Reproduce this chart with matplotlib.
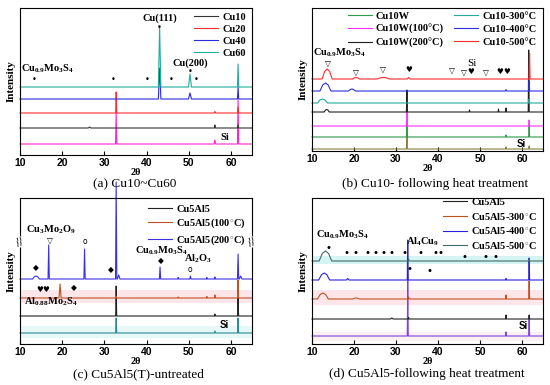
"""XRD patterns of Cu / Cu5Al5 doped films, four panels stacked with offsets."""
import numpy as np
import matplotlib
matplotlib.use("Agg")
import matplotlib.pyplot as plt

plt.rcParams["font.family"] = ["Liberation Serif", "DejaVu Sans"]
plt.rcParams["mathtext.fontset"] = "custom"
plt.rcParams["mathtext.rm"] = "Liberation Serif:bold"
plt.rcParams["mathtext.it"] = "Liberation Serif:bold"
plt.rcParams["mathtext.bf"] = "Liberation Serif:bold"

# ---- data: each trace = baseline offset + list of peaks (2theta, height, half width)
# (a) Cu10~Cu60, bottom -> top
a_names = [None, "Cu10", "Cu20", "Cu40", "Cu60"]
a_offsets = [11, 27, 42, 56, 68]
a_peaks = [
    [(32.8, 31, 0.15), (56.2, 4, 0.2), (61.7, 44, 0.15)],
    [(26.5, 1, 0.3), (56.2, 3, 0.12), (61.7, 3, 0.15)],
    [(32.8, 21, 0.12), (56.2, 1.5, 0.2), (61.7, 6, 0.15)],
    [(43.1, 31, 0.3), (50.3, 6, 0.35), (61.7, 12, 0.15)],
    [(43.1, 60, 0.3), (50.3, 13, 0.35), (61.7, 23, 0.15)],
]
a_marks = [("•", 13.3, 75), ("•", 32.1, 76), ("•", 40.1, 75), ("•", 45.9, 76),
           ("•", 51.7, 76), ("•", 43.1, 128), ("•", 50.3, 84)]

# (b) Cu10 following heat treatment
b_names = [None, "Cu10W", "Cu10W(100°C)", "Cu10W(200°C)",
           "Cu10-300°C", "Cu10-400°C", "Cu10-500°C"]
b_offsets = [2, 14, 25, 39, 48, 60, 72]
b_peaks = [
    [(32.6, 16, 0.12), (56.2, 2, 0.12), (61.7, 3, 0.12)],
    [(32.6, 14, 0.12), (56.2, 2, 0.12), (61.7, 12, 0.12)],
    [(32.6, 16, 0.12), (61.7, 6, 0.12)],
    [(13.5, 2.5, 0.6), (32.6, 22, 0.12), (47.5, 2, 0.12), (54.4, 3, 0.1),
     (56.2, 4, 0.1), (61.6, 62, 0.12)],
    [(12.5, 4, 1.2), (61.7, 4, 0.12)],
    [(13.2, 8, 1.3), (19.5, 2, 0.8), (56.2, 1.5, 0.15), (61.7, 10, 0.12)],
    [(13.6, 10, 1.2), (20.5, 1.5, 0.8), (27.0, 1.5, 1.5), (33.0, 1.5, 0.3), (61.8, 26, 0.12)],
]
b_marks = [("▽", 13.9, 88), ("▽", 20.5, 79), ("▽", 26.8, 82), ("▽", 43.2, 81),
           ("▽", 46.2, 79), ("▽", 51.5, 79), ("♥", 33.0, 82), ("♥", 47.7, 79),
           ("♥", 54.6, 80), ("♥", 56.3, 80)]

# (c) Cu5Al5(T)-untreated
c_names = [None, "Cu5Al5", "Cu5Al5(100$^{\\circ}$C)", "Cu5Al5(200$^{\\circ}$C)"]
c_offsets = [11, 28, 46, 65]
c_peaks = [
    [(32.8, 15, 0.12), (56.2, 2, 0.15), (61.7, 15, 0.12)],
    [(32.8, 30, 0.12), (56.2, 2, 0.1), (61.7, 19, 0.12)],
    [(19.5, 14, 0.25), (32.8, 2, 0.1), (47.5, 1, 0.1), (54.3, 1.5, 0.1),
     (56.2, 3, 0.1), (61.7, 18, 0.12)],
    [(13.8, 3, 0.8), (16.8, 34, 0.15), (25.3, 30, 0.15), (32.8, 97, 0.15),
     (33.4, 4, 0.3), (43.2, 12, 0.15), (47.5, 1.5, 0.12), (50.4, 3, 0.15),
     (54.3, 1.5, 0.1), (56.2, 2, 0.1), (61.7, 25, 0.15), (62.3, 3, 0.3)],
]
c_marks = [("◆", 13.7, 76), ("◆", 31.6, 74), ("◆", 43.5, 83), ("◆", 22.7, 56),
           ("♥", 14.6, 55), ("♥", 16.2, 55), ("▽", 17.0, 104), ("o", 25.5, 103),
           ("o", 50.4, 74)]

# (d) Cu5Al5 following heat treatment
d_names = [None, "Cu5Al5", "Cu5Al5-300$^{\\circ}$C", "Cu5Al5-400$^{\\circ}$C",
           "Cu5Al5-500$^{\\circ}$C"]
d_offsets = [8, 25, 45, 64, 83]
d_peaks = [
    [(32.8, 56, 0.12), (56.2, 4, 0.12), (61.7, 17, 0.12)],
    [(29.0, 1, 0.3), (33.0, 1.5, 0.1), (56.2, 4, 0.1), (61.7, 4, 0.12)],
    [(12.6, 6, 1.3), (20.5, 1, 0.8), (33.0, 2, 0.12), (56.2, 4, 0.1), (61.7, 18, 0.12)],
    [(12.9, 7, 1.3), (18.5, 1.5, 0.3), (32.8, 40, 0.12), (56.2, 1.5, 0.1), (61.7, 22, 0.12)],
    [(13.2, 10, 1.5), (33.0, 2, 0.1), (61.7, 2, 0.1)],
]
d_mark_x = [18.2, 20.4, 23.2, 25.2, 27.0, 28.9, 32.1, 35.8, 39.5, 40.7]
d_mark_x_low = [46.2, 51.4, 53.6]
d_marks = ([("•", 13.9, 96)] + [("•", p, 91) for p in d_mark_x]
           + [("•", p, 87) for p in d_mark_x_low]
           + [("•", 33.2, 75), ("•", 38.0, 73)])

# ---- styles
a_colors = ["#ff22d0", "#333333", "#ff2a2a", "#2a2ae0", "#1fae9c"]
b_colors = ["#8a8040", "#2e9a4a", "#ff30ff", "#222222", "#22aaa0", "#2a30e0", "#ff2a2a"]
c_colors = ["#2a8890", "#222222", "#c0501e", "#3a30e8"]
d_colors = ["#8040e0", "#222222", "#c0501e", "#2a20e0", "#3f6a6a"]


def trace(peaks):
    pts = [(10.0, 0.0), (65.0, 0.0)]
    for pos, h, w in peaks:
        if w >= 0.5:
            pts += [(pos - w, 0.0), (pos - w * 0.5, 0.75 * h), (pos, h),
                    (pos + w * 0.5, 0.75 * h), (pos + w, 0.0)]
        else:
            pts += [(pos - w, 0.0), (pos, h), (pos + w, 0.0)]
    pts.sort()
    x, y = zip(*pts)
    return np.array(x), np.array(y)


def draw(ax, names, offsets, peaks, colors, ymax):
    for name, off, pk, col in zip(names, offsets, peaks, colors):
        x, y = trace(pk)
        ax.plot(x, y + off, color=col, lw=0.8, label=name if name else "_nolegend_",
                clip_on=False)
    ax.set_xlim(10, 65)
    ax.set_ylim(0, ymax)
    ax.set_xticks([10, 20, 30, 40, 50, 60])
    ax.set_yticks([])
    ax.tick_params(axis="x", direction="in", length=3, pad=2.5)
    for lab in ax.get_xticklabels():
        lab.set_fontfamily("Liberation Sans")
        lab.set_fontweight("bold")
        lab.set_fontsize(7.5)
    ax.set_xlabel("2θ", fontsize=7.5, fontweight="bold", labelpad=0)
    ax.set_ylabel("Intensity", fontsize=8, fontweight="bold", labelpad=3)
    for s in ax.spines.values():
        s.set_linewidth(0.8)


def marks(ax, items, size=6):
    for sym, x, y in items:
        ax.text(x, y, sym, family="DejaVu Sans", fontsize=size, ha="center", va="center")


fig = plt.figure(figsize=(5.5, 3.85), dpi=100)
W, H = 550, 385
axa = fig.add_axes([20 / W, (H - 155) / H, 232 / W, 147 / H])
axb = fig.add_axes([312 / W, (H - 151) / H, 231 / W, 143 / H])
axc = fig.add_axes([20 / W, (H - 344) / H, 232 / W, 146 / H])
axd = fig.add_axes([312 / W, (H - 344) / H, 231 / W, 146 / H])

# faint highlight bands seen in the lower panels
axc.axhspan(41, 54, color="#fde6ea", lw=0)
axc.axhspan(6, 18, color="#e6f8f8", lw=0)
axd.axhspan(80, 88, color="#d6f4f4", lw=0)
axd.axhspan(39, 54, color="#fde6ea", lw=0)
axd.axhspan(3, 12, color="#fdf0f2", lw=0)

draw(axa, a_names, a_offsets, a_peaks, a_colors, 147)
draw(axb, b_names, b_offsets, b_peaks, b_colors, 143)
draw(axc, c_names, c_offsets, c_peaks, c_colors, 146)
draw(axd, d_names, d_offsets, d_peaks, d_colors, 146)

leg_kw = dict(frameon=False, handlelength=2.3, handletextpad=0.4, borderaxespad=0.2,
              prop={"family": "Liberation Serif", "weight": "bold", "size": 7.5})
axa.legend(loc="upper right", labelspacing=0.25, bbox_to_anchor=(1.0, 1.01), **leg_kw)
axb.legend(loc="upper right", ncol=2, labelspacing=0.35, columnspacing=1.0,
           bbox_to_anchor=(1.0, 1.02), **leg_kw)
axc.legend(loc="upper right", labelspacing=0.3, bbox_to_anchor=(1.0, 1.0), **leg_kw)
axd.legend(loc="upper right", labelspacing=0.35, bbox_to_anchor=(1.0, 1.045), **leg_kw)

bold = dict(fontsize=7.5, fontweight="bold")
# (a)
axa.text(10.3, 86, "Cu$_{0.9}$Mo$_3$S$_4$", ha="left", va="center", **bold)
axa.text(43.1, 137, "Cu(111)", ha="center", va="center", **bold)
axa.text(50.3, 92, "Cu(200)", ha="center", va="center", **bold)
axa.text(58.5, 18, "Si", ha="center", va="center", **bold)
marks(axa, a_marks, 6)
# (b)
axb.text(10.2, 98, "Cu$_{0.9}$Mo$_3$S$_4$", ha="left", va="center", **bold)
axb.text(48.0, 88, "Si", ha="center", va="center", fontsize=8)
axb.text(59.8, 7, "Si", ha="center", va="center", family="Liberation Sans",
         fontsize=7, fontweight="bold")
marks(axb, b_marks, 5.5)
# (c)
axc.text(11.5, 114, "Cu$_3$Mo$_2$O$_9$", ha="left", va="center", **bold)
axc.text(37.2, 93, "Cu$_{0.9}$Mo$_3$S$_4$", ha="left", va="center", **bold)
axc.text(48.8, 85, "Al$_2$O$_3$", ha="left", va="center", **bold)
axc.text(11.0, 42, "Al$_{0.88}$Mo$_2$S$_4$", ha="left", va="center", **bold)
axc.text(58.4, 19, "Si", ha="center", va="center", family="Liberation Sans",
         fontsize=7, fontweight="bold")
marks(axc, c_marks, 5.5)
for xa in (0.0, 1.0):
    axc.text(xa, 102 / 146, "//", transform=axc.transAxes, ha="center", va="center",
             fontsize=7, rotation=20, family="DejaVu Sans",
             bbox=dict(facecolor="white", edgecolor="none", pad=0.2))
# (d)
axd.text(10.9, 109, "Cu$_{0.9}$Mo$_3$S$_4$", ha="left", va="center", **bold)
axd.text(32.4, 102, "Al$_4$Cu$_9$", ha="left", va="center", **bold)
axd.text(60.2, 18, "Si", ha="center", va="center", family="Liberation Sans",
         fontsize=7, fontweight="bold")
marks(axd, d_marks, 7.5)

fig.text(135 / W, 1 - 184 / H, "(a) Cu10~Cu60", ha="center", va="center", fontsize=9.5)
fig.text(435 / W, 1 - 184 / H, "(b) Cu10- following heat treatment", ha="center",
         va="center", fontsize=9.5)
fig.text(138 / W, 1 - 374 / H, "(c) Cu5Al5(T)-untreated", ha="center", va="center",
         fontsize=9.5)
fig.text(427 / W, 1 - 374 / H, "(d) Cu5Al5-following heat treatment", ha="center",
         va="center", fontsize=9.5)

fig.savefig("out.png", dpi=100)
